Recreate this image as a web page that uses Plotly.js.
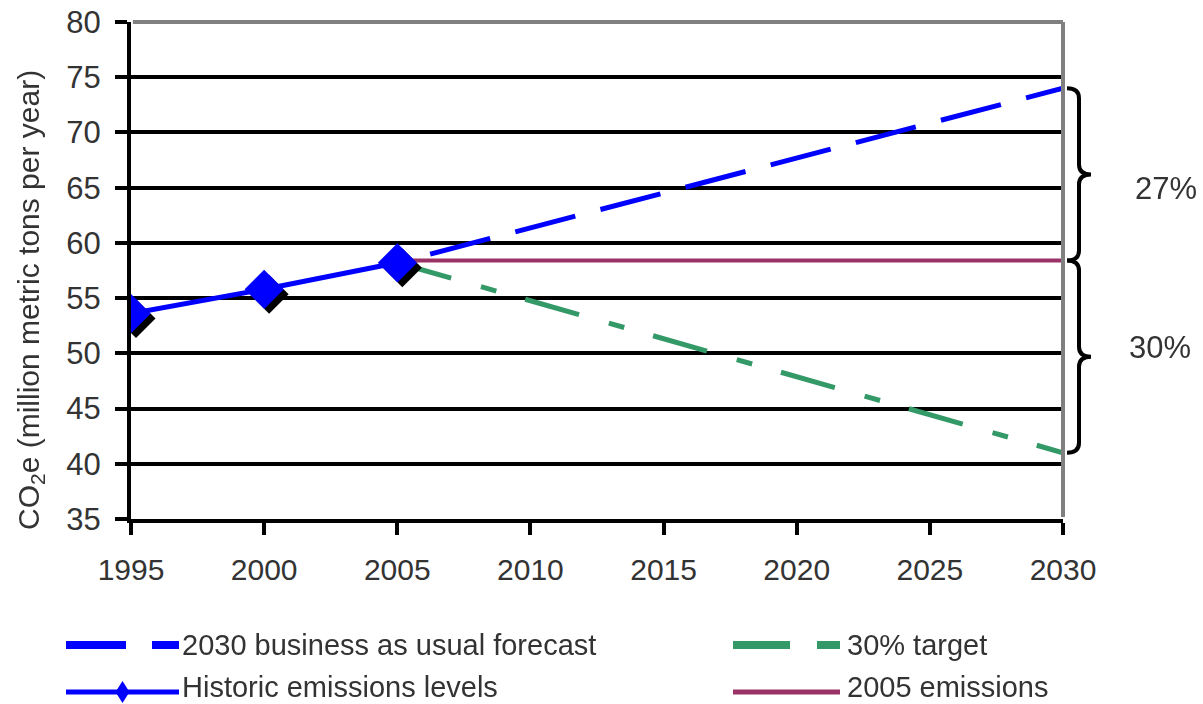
<!DOCTYPE html>
<html>
<head>
<meta charset="utf-8">
<script src="https://cdn.plot.ly/plotly-3.0.1.min.js"></script>
<style>
  html, body { margin: 0; padding: 0; background: #fff; }
  #chart { width: 1203px; height: 704px; }
</style>
</head>
<body>
<div id="chart"></div>
<script>
// Historic emissions (million metric tons CO2e per year)
const historicYears = [1995, 2000, 2005];
const historicEmissions = [53.6, 55.8, 58.2];

// Projections from 2005 to 2030
const forecastYears = [2005, 2030];
const businessAsUsual = [58.2, 74.0];
const target30 = [58.2, 41.0];
const emissions2005 = [58.4, 58.4];

// Axis ticks
const xTickValues = [1995, 2000, 2005, 2010, 2015, 2020, 2025, 2030];
const xTickLabels = ['1995', '2000', '2005', '2010', '2015', '2020', '2025', '2030'];
const yTickValues = [35, 40, 45, 50, 55, 60, 65, 70, 75, 80];
const yTickLabels = ['35', '40', '45', '50', '55', '60', '65', '70', '75', '80'];

// Bracket labels
const growthLabel = '27%';
const cutLabel = '30%';

const seriesNames = [
  '2030 business as usual forecast',
  '30% target',
  'Historic emissions levels',
  '2005 emissions'
];

const BLUE = '#0000ff';
const GREEN = '#339966';
const MAROON = '#993366';
const GRAY = '#808080';
const TEXT = '#333333';
const FONT = 'Liberation Sans, Arial, sans-serif';

const W = 1203, H = 704;
const M = { l: 131, r: 140, t: 22, b: 185 };
const PW = W - M.l - M.r, PH = H - M.t - M.b;
// page pixel -> paper fraction
const px = v => (v - M.l) / PW;
const py = v => (H - M.b - v) / PH;

// Dash pattern helper: a leading partial dash, then n repeats of the pattern
function dashList(lead, pattern, n) {
  const parts = lead ? lead.slice() : [];
  for (let i = 0; i < n; i++) { parts.push.apply(parts, pattern); }
  return parts.map(v => v + 'px').join(',');
}

const BAU_DASH = dashList([8, 26], [62, 26], 9);
const TARGET_DASH = dashList(null, [56, 31, 16, 30], 8);

const traces = [
  {
    name: seriesNames[3],
    x: forecastYears, y: emissions2005,
    mode: 'lines',
    line: { color: MAROON, width: 4 },
    showlegend: false, hoverinfo: 'skip'
  },
  {
    name: seriesNames[1],
    x: forecastYears, y: target30,
    mode: 'lines',
    line: { color: GREEN, width: 5, dash: TARGET_DASH },
    showlegend: false, hoverinfo: 'skip'
  },
  {
    name: seriesNames[0],
    x: forecastYears, y: businessAsUsual,
    mode: 'lines',
    line: { color: BLUE, width: 5, dash: BAU_DASH },
    showlegend: false, hoverinfo: 'skip'
  },
  {
    name: seriesNames[2],
    x: historicYears, y: historicEmissions,
    mode: 'lines+markers',
    line: { color: BLUE, width: 5 },
    marker: { symbol: 'diamond', size: 30, color: BLUE, line: { width: 0 } },
    showlegend: false, hoverinfo: 'skip'
  }
];

// Curly bracket between two data values, drawn just right of the plot
function bracePath(yTop, yBot) {
  const x0 = px(1067), x1 = px(1079), x2 = px(1091);
  const yMid = (yTop + yBot) / 2;
  const d = 0.9;
  return 'M' + x0 + ',' + yTop +
    ' Q' + x1 + ',' + yTop + ' ' + x1 + ',' + (yTop - d) +
    ' L' + x1 + ',' + (yMid + d) +
    ' Q' + x1 + ',' + yMid + ' ' + x2 + ',' + yMid +
    ' Q' + x1 + ',' + yMid + ' ' + x1 + ',' + (yMid - d) +
    ' L' + x1 + ',' + (yBot + d) +
    ' Q' + x1 + ',' + yBot + ' ' + x0 + ',' + yBot;
}

const upperTop = businessAsUsual[1];
const upperBot = emissions2005[1];
const lowerBot = target30[1];

// Legend key geometry (page pixels)
const KEY_ROW1 = 645, KEY_ROW2 = 692;
const COL1 = [66, 179], COL2 = [733, 840];
const TEXT_X1 = 181, TEXT_X2 = 846;

function keyLine(x0, x1, y, color, width, dash) {
  return {
    type: 'line', xref: 'paper', yref: 'paper',
    x0: px(x0), x1: px(x1), y0: py(y), y1: py(y),
    line: { color: color, width: width, dash: dash || 'solid' }
  };
}

function legendText(text, x, y) {
  return {
    text: text, xref: 'paper', yref: 'paper',
    x: px(x), y: py(y), xanchor: 'left', yanchor: 'middle',
    showarrow: false, borderpad: 0,
    font: { size: 29, color: TEXT, family: FONT }
  };
}

const layout = {
  width: W,
  height: H,
  margin: { l: M.l, r: M.r, t: M.t, b: M.b, pad: 0 },
  paper_bgcolor: '#ffffff',
  plot_bgcolor: '#ffffff',
  font: { family: FONT, color: TEXT, size: 28 },
  showlegend: false,
  xaxis: {
    range: [1995, 2030],
    tickmode: 'array',
    tickvals: xTickValues,
    ticktext: xTickLabels,
    ticks: 'outside', ticklen: 12, tickwidth: 4, tickcolor: '#000',
    showline: true, linecolor: '#000', linewidth: 4,
    showgrid: false, zeroline: false,
    tickfont: { size: 30, color: TEXT, family: FONT },
    ticklabelstandoff: 9,
    fixedrange: true
  },
  yaxis: {
    range: [35, 80],
    tickmode: 'array',
    tickvals: yTickValues,
    ticktext: yTickLabels,
    ticks: 'outside', ticklen: 12, tickwidth: 4, tickcolor: '#000',
    showline: true, linecolor: '#000', linewidth: 4,
    showgrid: true, gridcolor: '#000', gridwidth: 4,
    zeroline: false,
    tickfont: { size: 31, color: TEXT, family: FONT },
    ticklabelstandoff: 8,
    fixedrange: true
  },
  shapes: [
    // grey top and right frame
    { type: 'line', xref: 'paper', yref: 'paper', x0: 0.002, x1: 1, y0: 1, y1: 1,
      line: { color: GRAY, width: 4 } },
    { type: 'line', xref: 'paper', yref: 'paper', x0: 1, x1: 1, y0: 0.004, y1: 1,
      line: { color: GRAY, width: 4 } },
    // brackets
    { type: 'path', xref: 'paper', yref: 'y', path: bracePath(upperTop, upperBot),
      line: { color: '#000', width: 4 } },
    { type: 'path', xref: 'paper', yref: 'y', path: bracePath(upperBot, lowerBot),
      line: { color: '#000', width: 4 } },
    // legend keys
    keyLine(COL1[0], COL1[1], KEY_ROW1, BLUE, 8, '60px,26px'),
    keyLine(COL2[0], COL2[1], KEY_ROW1, GREEN, 8, '57px,27px'),
    keyLine(COL1[0], COL1[1], KEY_ROW2, BLUE, 5),
    keyLine(COL2[0], COL2[1], KEY_ROW2, MAROON, 5),
    {
      type: 'path', xref: 'paper', yref: 'paper',
      xsizemode: 'pixel', ysizemode: 'pixel',
      xanchor: px((COL1[0] + COL1[1]) / 2), yanchor: py(KEY_ROW2),
      path: 'M0,11 L7,0 L0,-11 L-7,0 Z',
      fillcolor: BLUE, line: { width: 0 }
    }
  ],
  annotations: [
    {
      text: 'CO<sub>2</sub>e (million metric tons per year)',
      xref: 'paper', yref: 'paper',
      x: px(30), y: py(300),
      xanchor: 'center', yanchor: 'middle',
      textangle: -90, showarrow: false,
      font: { size: 30, color: TEXT, family: FONT }
    },
    {
      text: growthLabel,
      xref: 'paper', yref: 'y',
      x: px(1166), y: (upperTop + upperBot) / 2 - 1.3,
      xanchor: 'center', yanchor: 'middle',
      showarrow: false,
      font: { size: 31, color: TEXT, family: FONT }
    },
    {
      text: cutLabel,
      xref: 'paper', yref: 'y',
      x: px(1160), y: (upperBot + lowerBot) / 2 + 0.8,
      xanchor: 'center', yanchor: 'middle',
      showarrow: false,
      font: { size: 31, color: TEXT, family: FONT }
    },
    legendText(seriesNames[0], TEXT_X1, KEY_ROW1),
    legendText(seriesNames[1], TEXT_X2, KEY_ROW1),
    legendText(seriesNames[2], TEXT_X1, KEY_ROW2 - 5),
    legendText(seriesNames[3], TEXT_X2, KEY_ROW2 - 5)
  ]
};

const gd = document.getElementById('chart');

// Offset black shadow under the historic diamonds
function addMarkerShadow() {
  const svg = gd.querySelector('svg.main-svg');
  if (!svg) return;
  let defs = svg.querySelector('defs');
  if (!defs) {
    defs = document.createElementNS('http://www.w3.org/2000/svg', 'defs');
    svg.insertBefore(defs, svg.firstChild);
  }
  if (!svg.querySelector('#diamond-shadow')) {
    const f = document.createElementNS('http://www.w3.org/2000/svg', 'filter');
    f.setAttribute('id', 'diamond-shadow');
    f.setAttribute('x', '-50%'); f.setAttribute('y', '-50%');
    f.setAttribute('width', '200%'); f.setAttribute('height', '200%');
    const ds = document.createElementNS('http://www.w3.org/2000/svg', 'feDropShadow');
    ds.setAttribute('dx', '5'); ds.setAttribute('dy', '5');
    ds.setAttribute('stdDeviation', '0');
    ds.setAttribute('flood-color', '#000'); ds.setAttribute('flood-opacity', '1');
    f.appendChild(ds);
    defs.appendChild(f);
  }
  const traceGroups = gd.querySelectorAll('.scatterlayer .trace');
  const last = traceGroups[traceGroups.length - 1];
  if (last) {
    const pts = last.querySelector('.points');
    if (pts) pts.setAttribute('filter', 'url(#diamond-shadow)');
  }
}

Plotly.newPlot(gd, traces, layout, { displayModeBar: false, staticPlot: true })
  .then(addMarkerShadow);
</script>
</body>
</html>
